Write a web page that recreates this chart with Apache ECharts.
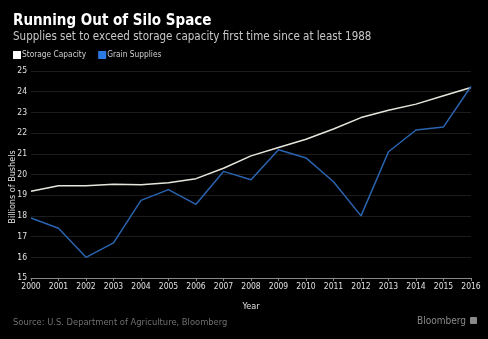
<!DOCTYPE html>
<html><head><meta charset="utf-8">
<script src="https://cdn.jsdelivr.net/npm/echarts@6/dist/echarts.min.js"></script>
<style>html,body{margin:0;padding:0;background:#000;}#c{width:488px;height:339px;}</style>
</head><body><div id="c"></div>
<script>
const years = ['2000','2001','2002','2003','2004','2005','2006','2007','2008','2009','2010','2011','2012','2013','2014','2015','2016'];
const storageCapacity = [19.19,19.46,19.46,19.53,19.5,19.6,19.8,20.3,20.9,21.3,21.7,22.2,22.75,23.1,23.4,23.8,24.2];
const grainSupplies = [17.9,17.4,16.0,16.7,18.75,19.27,18.56,20.15,19.75,21.2,20.8,19.65,18.0,21.1,22.15,22.3,24.25];
const yTicks = [15,16,17,18,19,20,21,22,23,24,25];

const F = '"DejaVu Sans Condensed","DejaVu Sans"';
const chart = echarts.init(document.getElementById('c'));
chart.setOption({
  backgroundColor:'#000',
  animation:false,
  title:[
    {text:'Running Out of Silo Space',left:13,top:14,padding:0,textStyle:{color:'#fff',fontSize:15,fontWeight:'bold',fontFamily:F}},
    {text:'Supplies set to exceed storage capacity first time since at least 1988',left:13,top:31,padding:0,textStyle:{color:'#c8c8c8',fontSize:11.5,fontWeight:'normal',fontFamily:F}},
    {text:'Source: U.S. Department of Agriculture, Bloomberg',left:13,top:318,padding:0,textStyle:{color:'#707070',fontSize:9.3,fontWeight:'normal',fontFamily:F}},
    {text:'Bloomberg',left:417,top:316,padding:0,textStyle:{color:'#8a8a8a',fontSize:10,fontWeight:'normal',fontFamily:F}}
  ],
  graphic:[
    {type:'text',x:13,y:187,rotation:Math.PI/2,style:{text:'Billions of Bushels',fill:'#e0e0e0',font:'9px '+F,textAlign:'center',textVerticalAlign:'middle'}},
    {type:'rect',shape:{x:470,y:317,width:7,height:7,r:1},style:{fill:'#8a8a8a'}}
  ],
  legend:{
    left:13,top:51,padding:0,itemWidth:8,itemHeight:8,itemGap:12,icon:'rect',
    textStyle:{color:'#d0d0d0',fontSize:8.3,fontFamily:F,padding:[0,0,0,-4]},
    data:[{name:'Storage Capacity',itemStyle:{color:'#ffffff'}},{name:'Grain Supplies',itemStyle:{color:'#2b7ae6'}}]
  },
  grid:{left:31,right:17,top:71,bottom:61,containLabel:false,outerBoundsMode:'none'},
  xAxis:{
    type:'category',data:years,boundaryGap:false,
    name:'Year',nameLocation:'middle',nameGap:24,
    nameTextStyle:{color:'#e0e0e0',fontSize:9,fontFamily:F},
    axisLine:{lineStyle:{color:'#888'}},
    axisTick:{show:true,length:3,lineStyle:{color:'#888'}},
    axisLabel:{color:'#e0e0e0',fontSize:8.5,margin:4,interval:0,fontFamily:F}
  },
  yAxis:{
    type:'value',min:15,max:25,interval:1,
    axisLine:{show:false},axisTick:{show:false},
    axisLabel:{color:'#e0e0e0',fontSize:8.5,margin:4,fontFamily:F},
    splitLine:{lineStyle:{color:'#1c1c1c',width:1}}
  },
  series:[
    {name:'Storage Capacity',type:'line',data:storageCapacity,showSymbol:false,lineStyle:{color:'#e6e6dc',width:1.5},itemStyle:{color:'#ffffff'}},
    {name:'Grain Supplies',type:'line',data:grainSupplies,showSymbol:false,lineStyle:{color:'#2a64b0',width:1.5},itemStyle:{color:'#2b7ae6'}}
  ]
});
</script></body></html>
